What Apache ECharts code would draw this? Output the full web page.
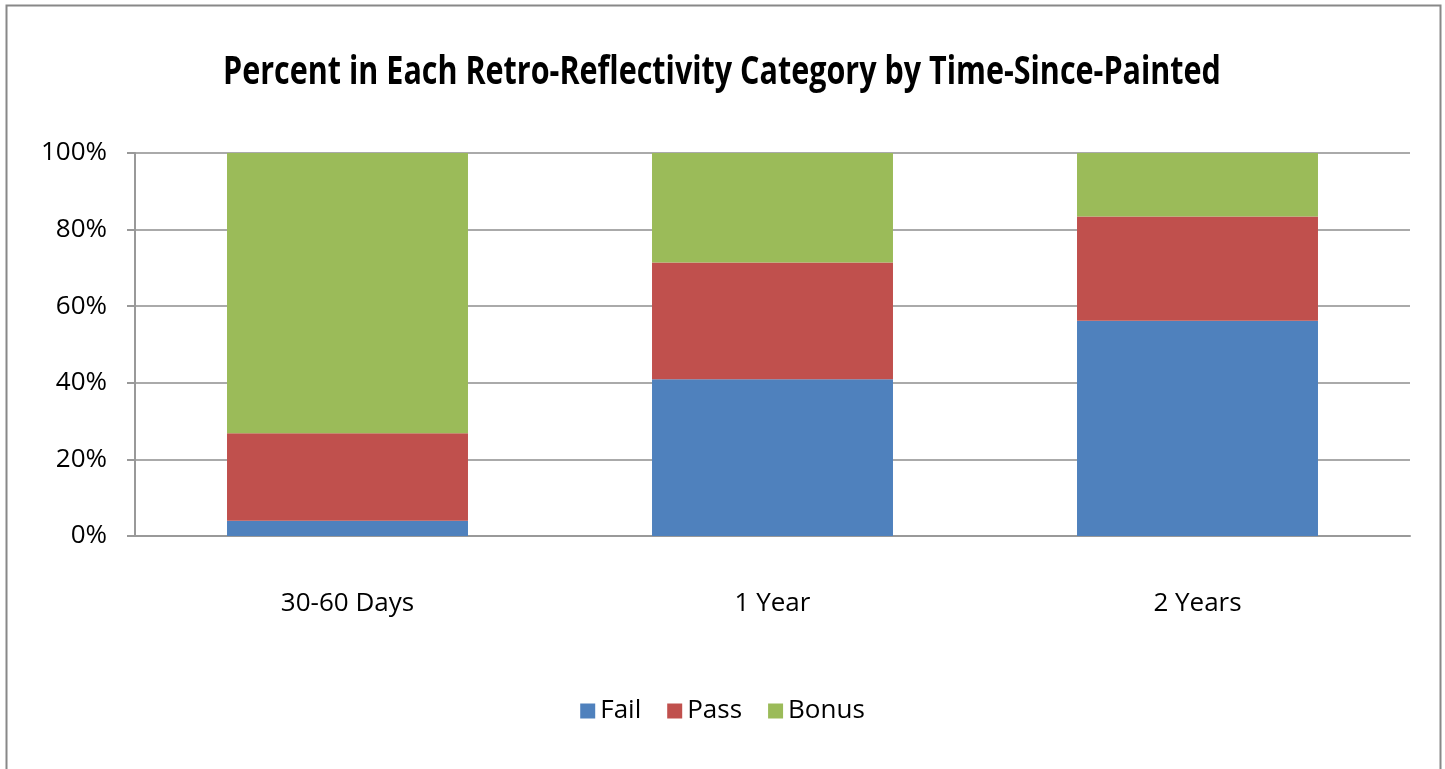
<!DOCTYPE html>
<html>
<head>
<meta charset="UTF-8">
<title>Retro-Reflectivity</title>
<script type="text/javascript" src="https://cdn.jsdelivr.net/npm/echarts@6/dist/echarts.min.js"></script>
<style>
  html,body{margin:0;padding:0;background:#fff}
</style>
</head>
<body>
<div id="main" style="width:1445px;height:769px"></div>
<script type="text/javascript">
// categories and percentages
var categories = ['30-60 Days', '1 Year', '2 Years'];
var fail  = [4.0, 40.9, 56.2];
var pass  = [22.8, 30.5, 27.2];
var bonus = [73.2, 28.6, 16.6];
var titleText = 'Percent in Each Retro-Reflectivity Category by Time-Since-Painted';

var font = '"Open Sans", sans-serif';

var myChart = echarts.init(document.getElementById('main'));

var option = {
  animation: false,
  backgroundColor: '#fff',
  legend: {
    bottom: 40,
    left: 'center',
    itemWidth: 15,
    itemHeight: 15,
    itemGap: 26,
    icon: 'rect',
    textStyle: { fontFamily: font, fontSize: 26, color: '#000' },
    data: ['Fail', 'Pass', 'Bonus']
  },
  grid: { left: 135, right: 35, top: 153, bottom: 233 },
  xAxis: {
    type: 'category',
    data: categories,
    axisLine: { lineStyle: { color: '#999', width: 2 } },
    axisTick: { show: false },
    axisLabel: { fontFamily: font, fontSize: 26, color: '#000', margin: 55 }
  },
  yAxis: {
    type: 'value',
    min: 0, max: 100, interval: 20,
    axisLine: { show: true, lineStyle: { color: '#999', width: 2 } },
    axisTick: { show: true, length: 8, lineStyle: { color: '#999', width: 2 } },
    splitLine: { lineStyle: { color: '#aaa', width: 2 } },
    axisLabel: { fontFamily: font, fontSize: 26, color: '#000', margin: 28, formatter: '{value}%' }
  },
  series: [
    { name: 'Fail',  type: 'bar', stack: 'total', barWidth: '56.7%', itemStyle: { color: '#4f81bd' }, data: fail },
    { name: 'Pass',  type: 'bar', stack: 'total', itemStyle: { color: '#c0504d' }, data: pass },
    { name: 'Bonus', type: 'bar', stack: 'total', itemStyle: { color: '#9bbb59' }, data: bonus }
  ],
  graphic: [
    { type: 'rect', left: 4, top: 3, shape: { width: 1434, height: 780 }, style: { fill: 'none', stroke: '#888', lineWidth: 2 }, silent: true },
    // title drawn as text so it can be stretched like the original
    {
      type: 'text', x: 722, y: 73, scaleY: 1.3, silent: true,
      style: {
        text: titleText, fill: '#000',
        font: 'bold 30.5px "Open Sans", sans-serif',
        align: 'center', verticalAlign: 'middle'
      }
    }
  ]
};
myChart.setOption(option);
</script>
</body>
</html>
